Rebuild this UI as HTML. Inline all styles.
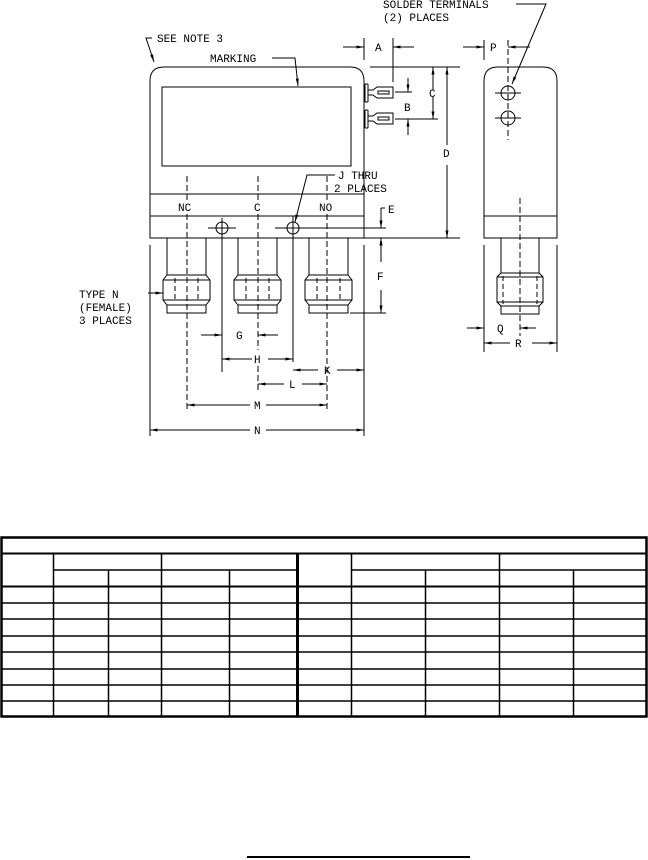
<!DOCTYPE html>
<html><head><style>html,body{margin:0;padding:0;background:#fff}svg{display:block}text{font-family:"Liberation Mono","DejaVu Sans Mono",monospace;font-size:11px;fill:#000}</style></head><body>
<svg width="648" height="860" viewBox="0 0 648 860" xmlns="http://www.w3.org/2000/svg">
<defs>
<marker id="a" viewBox="0 0 10 4" refX="10" refY="2" markerWidth="8" markerHeight="3" orient="auto-start-reverse" markerUnits="userSpaceOnUse"><path d="M0,0L10,2L0,4z" fill="#000"/></marker>
</defs>
<g fill="none" stroke="#000" stroke-width="1">
<path d="M164,67H350Q364,67 364,81V238H150V81Q150,67 164,67Z"/>
<rect x="162" y="87" width="189" height="79"/>
<line x1="150" y1="194" x2="364" y2="194"/><line x1="150" y1="216" x2="364" y2="216"/>
<circle cx="222" cy="228" r="6"/><circle cx="293" cy="228" r="6"/>
<line x1="208" y1="228" x2="236" y2="228"/><line x1="275" y1="228" x2="305" y2="228"/>
<line x1="222" y1="218" x2="222" y2="372"/><line x1="293" y1="216" x2="293" y2="362"/>
<g stroke-dasharray="6,3">
<line x1="187" y1="176" x2="187" y2="200"/><line x1="258" y1="176" x2="258" y2="200"/><line x1="327" y1="176" x2="327" y2="200"/>
<line x1="187" y1="214" x2="187" y2="410"/><line x1="258" y1="214" x2="258" y2="350"/><line x1="258" y1="366" x2="258" y2="390"/><line x1="327" y1="214" x2="327" y2="410"/></g>
<g id="c">
<line x1="167" y1="238" x2="167" y2="275"/><line x1="206" y1="238" x2="206" y2="275"/>
<path d="M167,275H206L210,280V300L206,305H167L163,300V280Z"/>
<line x1="163" y1="280" x2="210" y2="280"/><line x1="163" y1="300" x2="210" y2="300"/>
<rect x="167" y="305" width="39" height="8"/>
<line x1="175" y1="278" x2="175" y2="302" stroke-dasharray="5,3"/><line x1="198" y1="278" x2="198" y2="302" stroke-dasharray="5,3"/>
</g>
<use href="#c" x="71"/><use href="#c" x="142"/>
<g id="t"><line x1="365" y1="84" x2="365" y2="102"/><line x1="365" y1="84" x2="368" y2="84"/><line x1="365" y1="102" x2="368" y2="102"/><line x1="368" y1="84" x2="368" y2="102"/>
<path d="M368,90H373L377,87H393V98H377L373,95H368"/><rect x="378" y="91" width="11" height="3"/></g>
<use href="#t" y="26"/>
<line x1="150" y1="245" x2="150" y2="436"/><line x1="364" y1="245" x2="364" y2="436"/>
<line x1="364" y1="38" x2="364" y2="60"/><line x1="393" y1="38" x2="393" y2="82"/>
<line x1="370" y1="67" x2="460" y2="67"/><line x1="352" y1="238" x2="460" y2="238"/>
<line x1="395" y1="92" x2="412" y2="92"/><line x1="395" y1="119" x2="438" y2="119"/>
<line x1="298" y1="228" x2="386" y2="228"/><line x1="350" y1="313" x2="386" y2="313"/>
<line x1="343" y1="47" x2="364" y2="47" marker-end="url(#a)"/><line x1="414" y1="47" x2="393" y2="47" marker-end="url(#a)"/>
<line x1="433" y1="90" x2="433" y2="67" marker-end="url(#a)"/><line x1="433" y1="97" x2="433" y2="119" marker-end="url(#a)"/>
<line x1="408" y1="78" x2="408" y2="92" marker-end="url(#a)"/><line x1="408" y1="135" x2="408" y2="119" marker-end="url(#a)"/>
<line x1="447" y1="145" x2="447" y2="67" marker-end="url(#a)"/><line x1="447" y1="165" x2="447" y2="238" marker-end="url(#a)"/>
<line x1="381" y1="208" x2="381" y2="228" marker-end="url(#a)"/><line x1="381" y1="250" x2="381" y2="238" marker-end="url(#a)"/>
<line x1="385" y1="208" x2="381" y2="208"/>
<line x1="381" y1="262" x2="381" y2="238" marker-end="url(#a)"/><line x1="381" y1="290" x2="381" y2="313" marker-end="url(#a)"/>
<line x1="201" y1="335" x2="222" y2="335" marker-end="url(#a)"/><line x1="278" y1="335" x2="258" y2="335" marker-end="url(#a)"/>
<line x1="252" y1="359" x2="222" y2="359" marker-end="url(#a)"/><line x1="268" y1="359" x2="293" y2="359" marker-end="url(#a)"/>
<line x1="318" y1="370" x2="293" y2="370" marker-end="url(#a)"/><line x1="337" y1="370" x2="364" y2="370" marker-end="url(#a)"/>
<line x1="284" y1="384" x2="258" y2="384" marker-end="url(#a)"/><line x1="302" y1="384" x2="327" y2="384" marker-end="url(#a)"/>
<line x1="250" y1="405" x2="187" y2="405" marker-end="url(#a)"/><line x1="266" y1="405" x2="327" y2="405" marker-end="url(#a)"/>
<line x1="250" y1="430" x2="150" y2="430" marker-end="url(#a)"/><line x1="266" y1="430" x2="364" y2="430" marker-end="url(#a)"/>
<path d="M152,38H146L154,62" marker-end="url(#a)"/>
<path d="M272,58H295L298,86" marker-end="url(#a)"/>
<path d="M335,175H307L295,222" marker-end="url(#a)"/>
<line x1="148" y1="293" x2="163" y2="293" marker-end="url(#a)"/>
<path d="M516,4H546L512,84" marker-end="url(#a)"/>
<path d="M498,67H543Q557,67 557,81V238H484V81Q484,67 498,67Z"/>
<line x1="484" y1="216" x2="557" y2="216"/>
<line x1="508" y1="40" x2="508" y2="140" stroke-dasharray="6,3"/>
<circle cx="508" cy="93" r="7"/><circle cx="508" cy="118" r="7"/>
<line x1="495" y1="93" x2="521" y2="93"/><line x1="495" y1="118" x2="521" y2="118"/>
<line x1="520" y1="198" x2="520" y2="336" stroke-dasharray="6,3"/>
<line x1="501" y1="238" x2="501" y2="273"/><line x1="539" y1="238" x2="539" y2="273"/>
<path d="M501,273H539L543,277V302L539,306H501L497,302V277Z"/>
<line x1="497" y1="277" x2="543" y2="277"/><line x1="497" y1="302" x2="543" y2="302"/>
<line x1="503" y1="276" x2="503" y2="304" stroke-dasharray="5,3"/><line x1="537" y1="276" x2="537" y2="304" stroke-dasharray="5,3"/>
<rect x="501" y="306" width="38" height="8"/>
<line x1="484" y1="40" x2="484" y2="60"/>
<line x1="484" y1="245" x2="484" y2="352"/><line x1="557" y1="245" x2="557" y2="352"/>
<line x1="463" y1="47" x2="484" y2="47" marker-end="url(#a)"/><line x1="530" y1="47" x2="508" y2="47" marker-end="url(#a)"/>
<line x1="467" y1="328" x2="484" y2="328" marker-end="url(#a)"/><line x1="536" y1="328" x2="520" y2="328" marker-end="url(#a)"/>
<line x1="510" y1="343" x2="484" y2="343" marker-end="url(#a)"/><line x1="532" y1="343" x2="557" y2="343" marker-end="url(#a)"/>
</g>
<g>
<text x="157" y="42">SEE NOTE 3</text>
<text x="210" y="62">MARKING</text>
<text x="383" y="8">SOLDER TERMINALS</text>
<text x="383" y="21">(2) PLACES</text>
<text x="375" y="51">A</text><text x="429" y="97">C</text><text x="404" y="111">B</text>
<text x="443" y="157">D</text><text x="490" y="51">P</text>
<text x="338" y="179">J THRU</text><text x="334" y="192">2 PLACES</text>
<text x="388" y="213">E</text><text x="377" y="280">F</text>
<text x="178" y="211">NC</text><text x="254" y="211">C</text><text x="319" y="211">NO</text>
<text x="79" y="298">TYPE N</text><text x="79" y="311">(FEMALE)</text><text x="79" y="324">3 PLACES</text>
<text x="236" y="339">G</text><text x="254" y="363">H</text><text x="324" y="374">K</text>
<text x="289" y="388">L</text><text x="254" y="409">M</text><text x="254" y="434">N</text>
<text x="497" y="332">Q</text><text x="515" y="347">R</text>
</g>
<g stroke="#000" fill="none">
<rect x="1.5" y="537.5" width="645" height="179" stroke-width="2.5"/>
<line x1="1" y1="553.5" x2="647" y2="553.5" stroke-width="2"/>
<line x1="1" y1="586.5" x2="647" y2="586.5" stroke-width="2"/>
<g stroke-width="1.5">
<line x1="53" y1="570" x2="297" y2="570"/><line x1="351" y1="570" x2="647" y2="570"/>
<line x1="1" y1="603" x2="647" y2="603"/><line x1="1" y1="619" x2="647" y2="619"/>
<line x1="1" y1="636" x2="647" y2="636"/><line x1="1" y1="652" x2="647" y2="652"/>
<line x1="1" y1="669" x2="647" y2="669"/><line x1="1" y1="685" x2="647" y2="685"/>
<line x1="1" y1="701" x2="647" y2="701"/>
<line x1="53.5" y1="553" x2="53.5" y2="717"/><line x1="161.5" y1="553" x2="161.5" y2="717"/>
<line x1="351.5" y1="553" x2="351.5" y2="717"/><line x1="499.5" y1="553" x2="499.5" y2="717"/>
<line x1="108.5" y1="570" x2="108.5" y2="717"/><line x1="229.5" y1="570" x2="229.5" y2="717"/>
<line x1="425.5" y1="570" x2="425.5" y2="717"/><line x1="573.5" y1="570" x2="573.5" y2="717"/>
</g>
<line x1="297.5" y1="553" x2="297.5" y2="717" stroke-width="3"/>
</g>
<line x1="247" y1="857" x2="470" y2="857" stroke="#000" stroke-width="2"/>
</svg>
</body></html>
